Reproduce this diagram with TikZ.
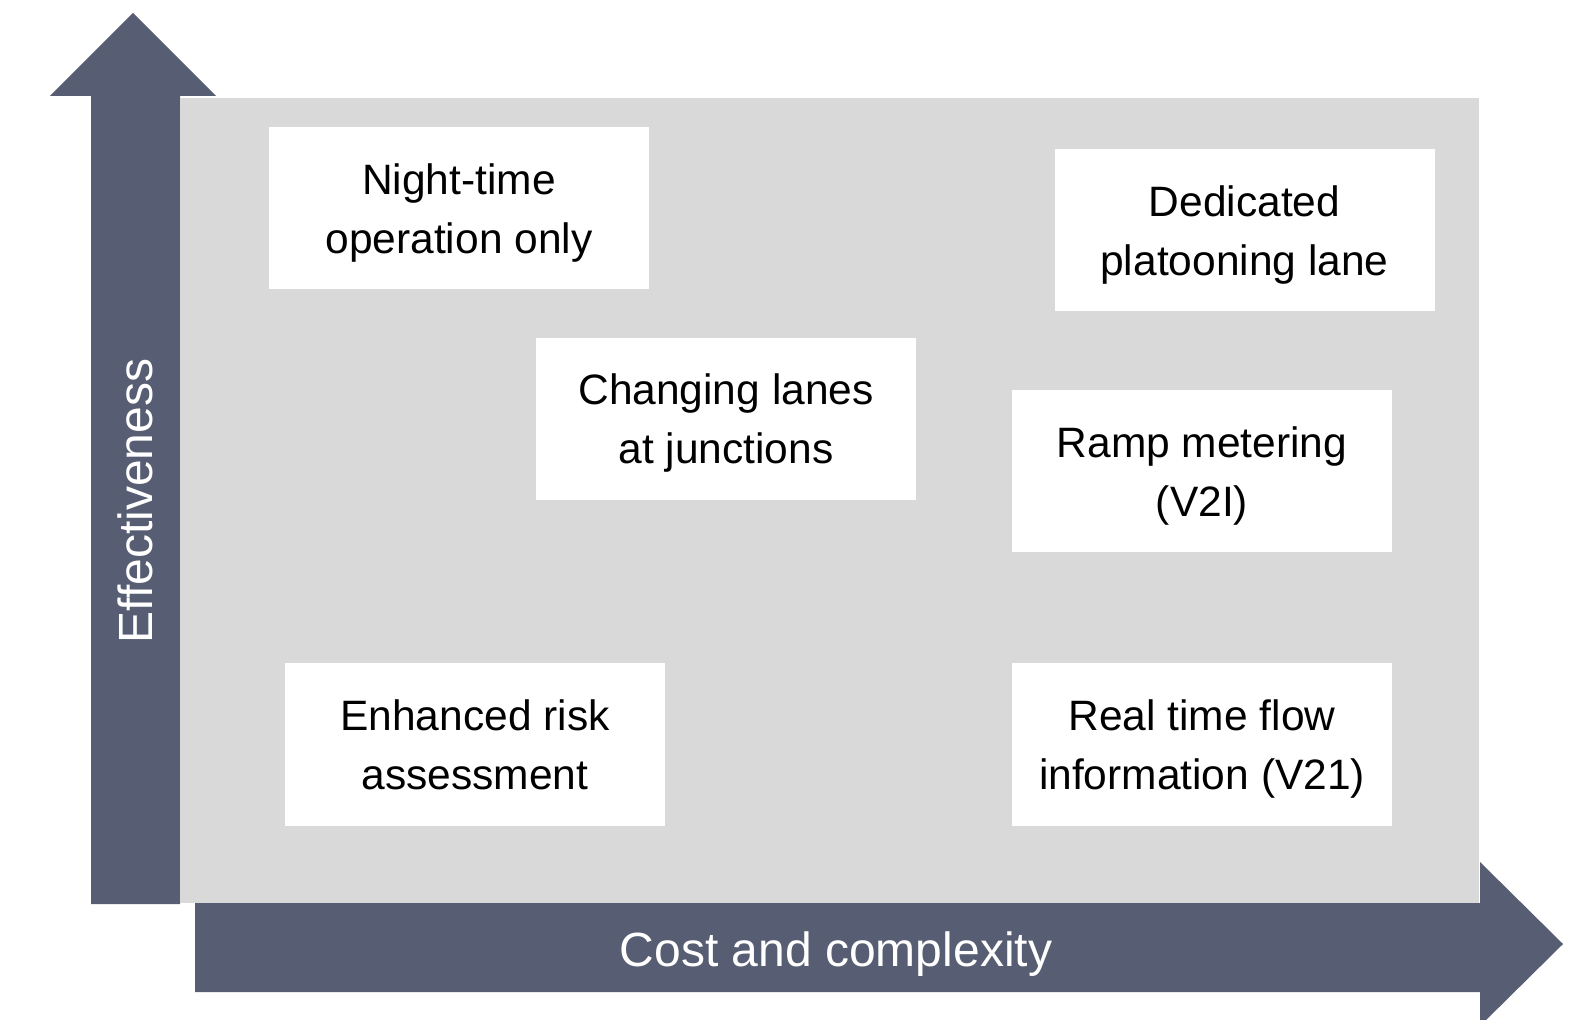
\documentclass[tikz,border=0pt]{standalone}
\usepackage{fontspec}
\setmainfont{Liberation Sans}
\usetikzlibrary{positioning}

\definecolor{axisblue}{HTML}{575D72}
\definecolor{panelgray}{HTML}{D9D9D9}

\tikzset{
  box/.style={fill=white, minimum width=190pt, minimum height=81pt, align=center,
    text depth=0pt, font=\fontsize{21.25}{29.5}\selectfont},
  axislabel/.style={text=white, font=\fontsize{24}{28}\selectfont}
}

\begin{document}
\begin{tikzpicture}[x=0.5pt, y=-0.5pt]

\clip (0,0) rectangle (1584,1020);

% axes and panel
\fill[axisblue] (91,904) -- (91,96) -- (50,96) -- (133,13) -- (216,96) -- (180,96) -- (180,904) -- cycle;
\fill[panelgray] (180,98) rectangle (1479,903);
\fill[axisblue] (195,903) -- (1480,903) -- (1480,862) -- (1563,944) -- (1480,1026) -- (1480,992) -- (195,992) -- cycle;

\node[axislabel, rotate=90] (effect) at (135,501) {Effectiveness};
\node[axislabel] (cost) at (836,954) {Cost and complexity};

% measures
\node[box] (night) at (459,208.5) {Night-time\\operation only};
\node[box] (lane) at (1244.5,230.5) {Dedicated\\platooning lane};
\node[box] (change) at (726,419) {Changing lanes\\at junctions};
\node[box] (ramp) at (1202,471.5) {Ramp metering\\(V2I)};
\node[box] (risk) at (475,744.5) {Enhanced risk\\assessment};
\node[box] (flow) at (1202,744.5) {Real time flow\\information (V21)};

\end{tikzpicture}
\end{document}
